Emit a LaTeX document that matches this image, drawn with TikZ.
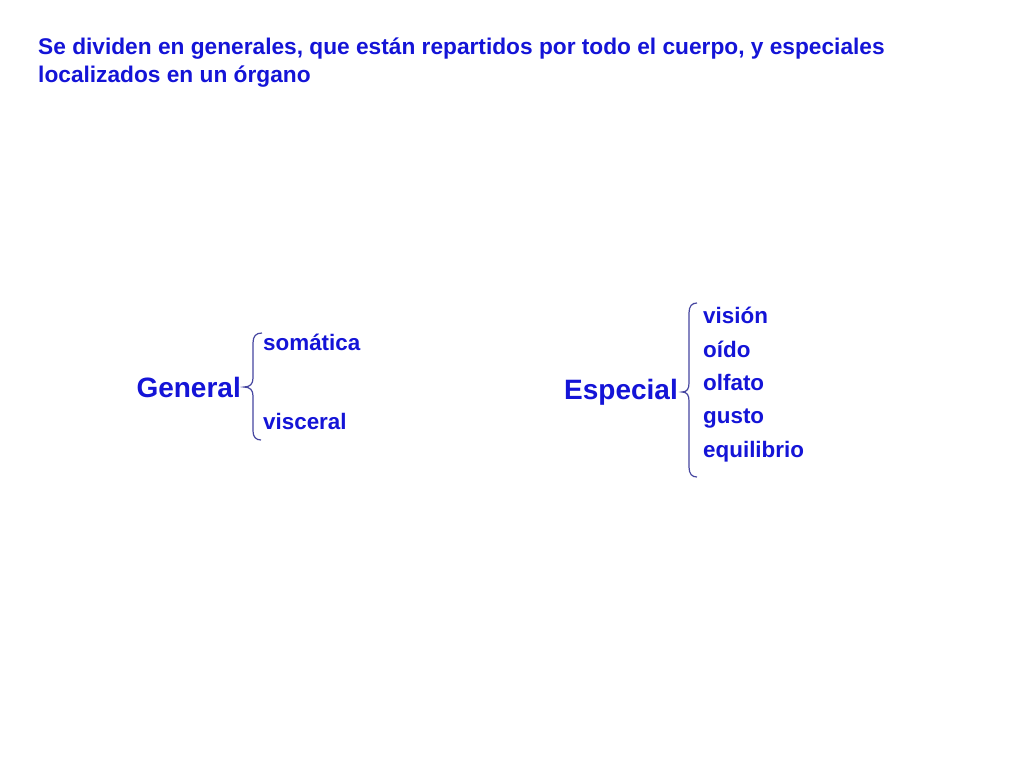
\documentclass[tikz,border=0pt]{standalone}
\usepackage{fontspec}
\setmainfont{Liberation Sans}
\definecolor{txtblue}{RGB}{20,20,215}
\definecolor{bracecol}{RGB}{70,70,160}
\begin{document}
\begin{tikzpicture}[x=1pt,y=-1pt,
  title/.style={anchor=base west,inner sep=0pt,text=txtblue,font=\bfseries\fontsize{22.7}{26}\selectfont},
  head/.style={anchor=base east,inner sep=0pt,text=txtblue,font=\bfseries\fontsize{28}{32}\selectfont},
  item/.style={anchor=base west,inner sep=0pt,text=txtblue,font=\bfseries\fontsize{22.4}{26}\selectfont},
  bracel/.style={draw=bracecol,line width=1.2pt}]
\useasboundingbox[fill=white] (0,0) rectangle (1024,768);
\node[title] (t1) at (38,55) {Se dividen en generales, que están repartidos por todo el cuerpo, y especiales};
\node[title] (t2) at (38,82) {localizados en un órgano};

\node[head] (gen) at (241,397) {General};
\node[item] (som) at (263,350) {somática};
\node[item] (vis) at (263,429) {visceral};
\draw[bracel] (262,333) .. controls (256,333) and (253,336) .. (253,343) -- (253,378)
  .. controls (253,384) and (250,387) .. (244,387)
  .. controls (250,387) and (253,390) .. (253,396) -- (253,431)
  .. controls (253,437) and (256,440) .. (261,440);

\node[head] (esp) at (678,399) {Especial};
\node[item] (e1) at (703,323) {visión};
\node[item] (e2) at (703,357) {oído};
\node[item] (e3) at (703,390) {olfato};
\node[item] (e4) at (703,423) {gusto};
\node[item] (e5) at (703,457) {equilibrio};
\draw[bracel] (697,303) .. controls (692,303) and (689,306) .. (689,313) -- (689,383)
  .. controls (689,389) and (687,392) .. (682,392)
  .. controls (687,392) and (689,395) .. (689,401) -- (689,467)
  .. controls (689,474) and (692,477) .. (697,477);
\end{tikzpicture}
\end{document}
